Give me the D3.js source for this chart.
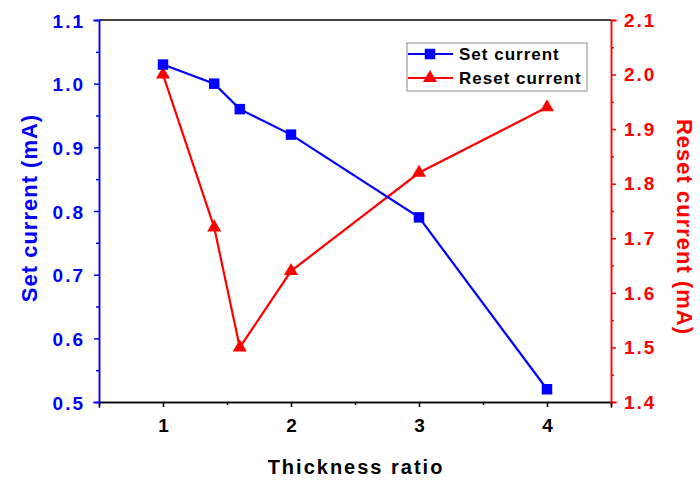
<!DOCTYPE html>
<html><head><meta charset="utf-8">
<script src="https://cdn.jsdelivr.net/npm/d3@7"></script>
<style>body{margin:0;background:#fff}svg{display:block;font-family:"Liberation Sans",Arial,sans-serif;font-weight:bold}svg text{font-family:"Liberation Sans",Arial,sans-serif;font-weight:bold}</style>
</head><body><svg id="c" width="700" height="487"></svg>
<script>
const ratios = [1, 1.4, 1.6, 2, 3, 4];
const setCurrent = [1.03, 1.0, 0.96, 0.92, 0.79, 0.52];
const resetCurrent = [2.0, 1.72, 1.5, 1.64, 1.82, 1.94];
const xTicks = [1, 2, 3, 4];
const leftTicks = [0.5, 0.6, 0.7, 0.8, 0.9, 1.0, 1.1];
const rightTicks = [1.4, 1.5, 1.6, 1.7, 1.8, 1.9, 2.0, 2.1];

const svg = d3.select("#c");
const L = 99, R = 611, T = 20, B = 402;
const x = d3.scaleLinear().domain([0.5, 4.5]).range([L, R]);
const yL = d3.scaleLinear().domain([0.5, 1.1]).range([B, T]);
const yR = d3.scaleLinear().domain([1.4, 2.1]).range([B, T]);
const blue = "#0000ff", red = "#ff0000";
const FF = '"Liberation Sans", Arial, sans-serif';

// top frame
svg.append("line").attr("x1", L).attr("x2", R).attr("y1", T).attr("y2", T).attr("stroke", "#000").attr("stroke-width", 1.5);

// x axis
const gx = svg.append("g").attr("transform", `translate(0,${B})`)
  .call(d3.axisBottom(x).tickValues(xTicks).tickFormat(d3.format("d")).tickSize(5).tickPadding(12));
gx.append("g").call(d3.axisBottom(x).tickValues([1.5, 2.5, 3.5]).tickSize(3).tickFormat(""));
gx.selectAll("path").attr("stroke", "#000").attr("stroke-width", 1.5);
gx.selectAll("line").attr("stroke", "#000").attr("stroke-width", 1.5);
gx.selectAll("text").attr("fill", "#000").style("font-family", FF).style("font-size", "19px").style("font-weight", "bold");

// left axis
const gl = svg.append("g").attr("transform", `translate(${L},0)`)
  .call(d3.axisLeft(yL).tickValues(leftTicks).tickFormat(d3.format(".1f")).tickSize(5).tickPadding(9));
gl.append("g").call(d3.axisLeft(yL).tickValues(d3.range(0.55, 1.1, 0.1)).tickSize(3).tickFormat(""));
gl.selectAll("path").attr("stroke", blue).attr("stroke-width", 1.5);
gl.selectAll("line").attr("stroke", blue).attr("stroke-width", 1.5);
gl.selectAll("text").attr("fill", blue).attr("dy", "0.38em").style("font-family", FF).style("font-size", "19px").style("letter-spacing", "2px").style("font-weight", "bold");

// right axis
const gr = svg.append("g").attr("transform", `translate(${R},0)`)
  .call(d3.axisRight(yR).tickValues(rightTicks).tickFormat(d3.format(".1f")).tickSize(5).tickPadding(8));
gr.append("g").call(d3.axisRight(yR).tickValues(d3.range(1.45, 2.1, 0.1)).tickSize(3).tickFormat(""));
gr.selectAll("path").attr("stroke", red).attr("stroke-width", 1.5);
gr.selectAll("line").attr("stroke", red).attr("stroke-width", 1.5);
gr.selectAll("text").attr("fill", red).attr("dy", "0.33em").style("font-family", FF).style("font-size", "19px").style("letter-spacing", "2px").style("font-weight", "bold");
svg.selectAll(".domain").attr("stroke-linecap", "square");

// titles
svg.append("text").attr("transform", `translate(356,474)`).attr("text-anchor", "middle")
  .style("font-size", "20px").style("letter-spacing", "2px").attr("fill", "#000").text("Thickness ratio");
svg.append("text").attr("transform", `translate(37,208) rotate(-90)`).attr("text-anchor", "middle")
  .style("font-size", "22px").style("letter-spacing", "1px").attr("fill", blue).text("Set current (mA)");
svg.append("text").attr("transform", `translate(677,227) rotate(90)`).attr("text-anchor", "middle")
  .style("font-size", "22px").style("letter-spacing", "1px").attr("fill", red).text("Reset current (mA)");

// lines
const setData = ratios.map((r, i) => [r, setCurrent[i]]);
const resetData = ratios.map((r, i) => [r, resetCurrent[i]]);
svg.append("path").datum(resetData).attr("fill", "none").attr("stroke", red).attr("stroke-width", 2.2)
  .attr("d", d3.line().x(d => x(d[0])).y(d => yR(d[1])));
svg.append("path").datum(setData).attr("fill", "none").attr("stroke", blue).attr("stroke-width", 2.2)
  .attr("d", d3.line().x(d => x(d[0])).y(d => yL(d[1])));

const tri = d3.symbol().type(d3.symbolTriangle).size(85);
const sq = d3.symbol().type(d3.symbolSquare).size(110);
svg.selectAll(".tri").data(resetData).join("path")
  .attr("transform", d => `translate(${x(d[0])},${yR(d[1])})`).attr("d", tri).attr("fill", red);
svg.selectAll(".sq").data(setData).join("path")
  .attr("transform", d => `translate(${x(d[0])},${yL(d[1])})`).attr("d", sq).attr("fill", blue);

// legend
const lg = svg.append("g").attr("transform", "translate(407,43)");
lg.append("rect").attr("width", 180).attr("height", 48).attr("fill", "#fff").attr("stroke", "#888").attr("stroke-width", 1);
const items = [["Set current", blue, sq], ["Reset current", red, tri]];
items.forEach((it, i) => {
  const cy = 11 + i * 24;
  lg.append("line").attr("x1", 1).attr("x2", 46).attr("y1", cy).attr("y2", cy).attr("stroke", it[1]).attr("stroke-width", 2.2);
  lg.append("path").attr("transform", `translate(23,${cy})`).attr("d", it[2]).attr("fill", it[1]);
  lg.append("text").attr("x", 52).attr("y", cy + 6).style("font-size", "17px").style("letter-spacing", "1px").attr("fill", "#000").text(it[0]);
});
</script></body></html>
